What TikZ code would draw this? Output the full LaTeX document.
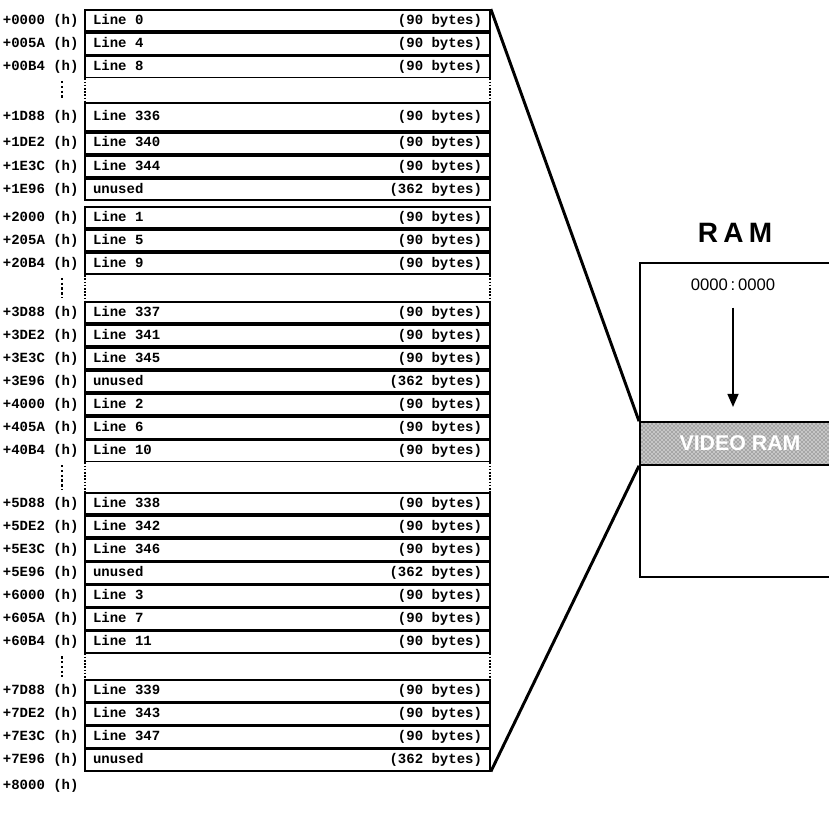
\documentclass[tikz,border=0pt]{standalone}
\usepackage{fontspec}
\setmainfont{Liberation Serif}
\setsansfont{Liberation Sans}
\setmonofont{Liberation Mono}
\usetikzlibrary{arrows.meta,positioning,patterns}

\newcommand{\rowtxt}[2]{\makebox[291.75pt]{#1\hfill#2}}

\begin{document}
\begin{tikzpicture}[
  x=0.75pt, y=-0.75pt,
  font=\ttfamily\bfseries\fontsize{10.5}{12}\selectfont,
  node distance=0pt,
  row/.style     = {draw, line width=1.3pt, minimum height=16pt,
                    inner xsep=6pt, inner ysep=0pt},
  gapcell/.style = {minimum width=303.75pt, inner sep=0pt},
  addr/.style    = {inner sep=1pt},
  dotedge/.style = {line width=1.3pt, dash pattern=on 1.2pt off 1.2pt},
  vdots/.style   = {line width=2pt, dash pattern=on 1.8pt off 1.8pt},
  fan/.style     = {line width=2.2pt},
  rambox/.style  = {draw, line width=1.5pt, minimum width=150pt,
                    minimum height=235.5pt},
  vram/.style    = {draw, line width=1.5pt, minimum width=150pt,
                    minimum height=32pt, preaction={fill=gray!45},
                    pattern=crosshatch dots, pattern color=black!75,
                    text=white, font=\sffamily\bfseries\fontsize{16}{18}\selectfont},
  arr/.style     = {-{Triangle[length=10pt,width=8pt]}, line width=2pt}
]
\useasboundingbox (0,0) rectangle (829,816);
%% Bank 0
\node[row]                  (r1) at (287.5,20.67) {\rowtxt{Line 0}{(90 bytes)}};
\node[row,below=of r1]      (r2) {\rowtxt{Line 4}{(90 bytes)}};
\node[row,below=of r2]      (r3) {\rowtxt{Line 8}{(90 bytes)}};
\node[gapcell,minimum height=17.4pt,below=of r3] (g1) {};
\node[row,minimum height=21pt,below=of g1] (r4) {\rowtxt{Line 336}{(90 bytes)}};
\node[row,below=of r4]      (r5) {\rowtxt{Line 340}{(90 bytes)}};
\node[row,below=of r5]      (r6) {\rowtxt{Line 344}{(90 bytes)}};
\node[row,below=of r6]      (r7) {\rowtxt{unused}{(362 bytes)}};
%% Bank 1
\node[row,below=3.7pt of r7] (r8) {\rowtxt{Line 1}{(90 bytes)}};
\node[row,below=of r8]      (r9) {\rowtxt{Line 5}{(90 bytes)}};
\node[row,below=of r9]      (r10) {\rowtxt{Line 9}{(90 bytes)}};
\node[gapcell,minimum height=18.9pt,below=of r10] (g2) {};
\node[row,below=of g2]      (r11) {\rowtxt{Line 337}{(90 bytes)}};
\node[row,below=of r11]     (r12) {\rowtxt{Line 341}{(90 bytes)}};
\node[row,below=of r12]     (r13) {\rowtxt{Line 345}{(90 bytes)}};
\node[row,below=of r13]     (r14) {\rowtxt{unused}{(362 bytes)}};
%% Bank 2
\node[row,below=of r14]     (r15) {\rowtxt{Line 2}{(90 bytes)}};
\node[row,below=of r15]     (r16) {\rowtxt{Line 6}{(90 bytes)}};
\node[row,below=of r16]     (r17) {\rowtxt{Line 10}{(90 bytes)}};
\node[gapcell,minimum height=21.9pt,below=of r17] (g3) {};
\node[row,below=of g3]      (r18) {\rowtxt{Line 338}{(90 bytes)}};
\node[row,below=of r18]     (r19) {\rowtxt{Line 342}{(90 bytes)}};
\node[row,below=of r19]     (r20) {\rowtxt{Line 346}{(90 bytes)}};
\node[row,below=of r20]     (r21) {\rowtxt{unused}{(362 bytes)}};
%% Bank 3
\node[row,below=of r21]     (r22) {\rowtxt{Line 3}{(90 bytes)}};
\node[row,below=of r22]     (r23) {\rowtxt{Line 7}{(90 bytes)}};
\node[row,below=of r23]     (r24) {\rowtxt{Line 11}{(90 bytes)}};
\node[gapcell,minimum height=18.9pt,below=of r24] (g4) {};
\node[row,below=of g4]      (r25) {\rowtxt{Line 339}{(90 bytes)}};
\node[row,below=of r25]     (r26) {\rowtxt{Line 343}{(90 bytes)}};
\node[row,below=of r26]     (r27) {\rowtxt{Line 347}{(90 bytes)}};
\node[row,below=of r27]     (r28) {\rowtxt{unused}{(362 bytes)}};
%% Skipped lines
\foreach \gp in {g1,g2,g3,g4}{
  \draw[dotedge] (\gp.north west)--(\gp.south west);
  \draw[dotedge] (\gp.north east)--(\gp.south east);
  \draw[vdots] ([xshift=-17pt,yshift=-2pt]\gp.north west)--([xshift=-17pt,yshift=2pt]\gp.south west);}
%% Offsets
\foreach \nd/\lb in {r1/+0000,r2/+005A,r3/+00B4,r4/+1D88,r5/+1DE2,r6/+1E3C,r7/+1E96,
  r8/+2000,r9/+205A,r10/+20B4,r11/+3D88,r12/+3DE2,r13/+3E3C,r14/+3E96,
  r15/+4000,r16/+405A,r17/+40B4,r18/+5D88,r19/+5DE2,r20/+5E3C,r21/+5E96,
  r22/+6000,r23/+605A,r24/+60B4,r25/+7D88,r26/+7DE2,r27/+7E3C,r28/+7E96}{
  \node[addr,left=3pt of \nd]{\lb\ (h)};}
\node[addr,below left=5pt and 3pt of r28.south west] (end) {+8000 (h)};
%% RAM
\node[rambox] (ram) at (740,420) {};
\node[vram]   (vram) at (740,443.5) {VIDEO RAM};
\node[font=\sffamily\bfseries\fontsize{21}{24}\selectfont] (title) at (735,233)
  {R\kern4pt A\kern4pt M};
\node[font=\sffamily\fontsize{12.5}{14}\selectfont] (base) at (733,285) {0000\,:\,0000};
\draw[arr, shorten <=9pt, shorten >=10.5pt] (base.south)--(base.south |- vram.north);
%% Zoom lines
\draw[fan] (r1.north east)--(vram.north west);
\draw[fan] (r28.south east)--(vram.south west);
\end{tikzpicture}
\end{document}
